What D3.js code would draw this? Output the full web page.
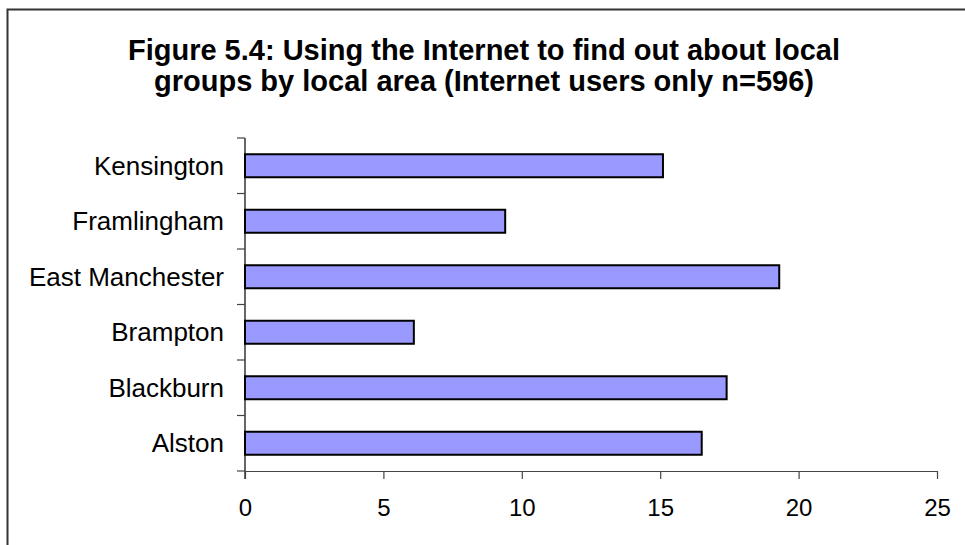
<!DOCTYPE html>
<html>
<head>
<meta charset="utf-8">
<script src="https://cdn.jsdelivr.net/npm/d3@7"></script>
<style>
  html, body { margin: 0; padding: 0; background: #fff; }
  svg { display: block; font-family: "Liberation Sans", Arial, sans-serif; }
</style>
</head>
<body>
<svg id="chart" width="965" height="545"></svg>
<script>
// Local areas, listed top to bottom
const areas = ["Kensington", "Framlingham", "East Manchester", "Brampton", "Blackburn", "Alston"];
// Percentage of Internet users who used it to find out about local groups
const percents = [15.1, 9.4, 19.3, 6.1, 17.4, 16.5];
// Value axis ticks
const xTicks = [0, 5, 10, 15, 20, 25];
const titleLines = [
  "Figure 5.4: Using the Internet to find out about local",
  "groups by local area (Internet users only n=596)"
];

(function draw() {
  const svg = d3.select("#chart");
  const plotLeft = 245, plotRight = 937, plotTop = 138, plotBottom = 471;

  // Outer frame of the figure
  svg.append("path")
    .attr("d", "M7.5,545 V9.5 H965")
    .attr("fill", "none")
    .attr("stroke", "#333")
    .attr("stroke-width", 2);

  // Title
  svg.append("g").selectAll("text")
    .data(titleLines)
    .join("text")
    .attr("x", 484)
    .attr("y", (d, i) => 60 + i * 31)
    .attr("text-anchor", "middle")
    .attr("font-size", 29)
    .attr("font-weight", "bold")
    .attr("fill", "#000")
    .text(d => d);

  const x = d3.scaleLinear().domain([0, 25]).range([plotLeft, plotRight]);
  const band = d3.scaleBand().domain(areas).range([plotTop, plotBottom]);
  const barH = 23;

  // Bars
  svg.append("g").selectAll("rect")
    .data(areas)
    .join("rect")
    .attr("x", x(0))
    .attr("y", d => band(d) + band.bandwidth() / 2 - barH / 2)
    .attr("width", (d, i) => x(percents[i]) - x(0))
    .attr("height", barH)
    .attr("fill", "#9999FF")
    .attr("stroke", "#000")
    .attr("stroke-width", 2);

  // Category axis: ticks on band boundaries, labels at band centres
  const boundaries = d3.range(areas.length + 1).map(i => plotTop + i * band.step());
  const yAxis = svg.append("g");
  yAxis.append("line")
    .attr("x1", plotLeft).attr("x2", plotLeft)
    .attr("y1", plotTop).attr("y2", plotBottom + 8)
    .attr("stroke", "#000").attr("stroke-width", 1.2);
  yAxis.selectAll("line.tick")
    .data(boundaries)
    .join("line")
    .attr("class", "tick")
    .attr("x1", plotLeft - 8).attr("x2", plotLeft)
    .attr("y1", d => d).attr("y2", d => d)
    .attr("stroke", "#444").attr("stroke-width", 1.2);
  yAxis.selectAll("text")
    .data(areas)
    .join("text")
    .attr("x", 224)
    .attr("y", d => band(d) + band.bandwidth() / 2)
    .attr("dy", "0.35em")
    .attr("text-anchor", "end")
    .attr("font-size", 26)
    .attr("fill", "#000")
    .text(d => d);

  // Value axis
  const xAxis = svg.append("g")
    .attr("transform", `translate(0,${plotBottom})`)
    .call(d3.axisBottom(x).tickValues(xTicks).tickSize(8).tickSizeOuter(0).tickPadding(20));
  xAxis.select(".domain").attr("stroke", "#444").attr("stroke-width", 1.2);
  xAxis.selectAll(".tick line").attr("stroke", "#444").attr("stroke-width", 1.2);
  xAxis.selectAll(".tick text")
    .attr("font-size", 24)
    .attr("font-family", "Liberation Sans, Arial, sans-serif")
    .attr("fill", "#000");
})();
</script>
</body>
</html>
